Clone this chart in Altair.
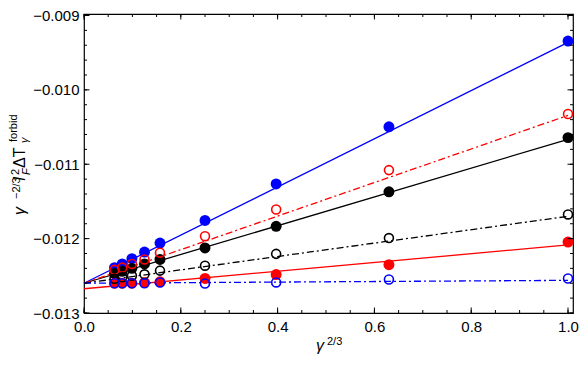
import altair as alt
import pandas as pd

# ---- data ----
x_vals = [0.063, 0.079, 0.099, 0.125, 0.157, 0.25, 0.397, 0.63, 1.0]

blue_filled = [-0.01239, -0.01234, -0.01227, -0.01218, -0.01206, -0.011755, -0.011265, -0.010497, -0.009344]
red_open = [-0.01242, -0.01239, -0.01234, -0.01228, -0.01219, -0.011967, -0.011609, -0.011079, -0.010325]
black_filled = [-0.01247, -0.01244, -0.01240, -0.01234, -0.01228, -0.012126, -0.011834, -0.011371, -0.010642]
black_open = [-0.01254, -0.01252, -0.01250, -0.01248, -0.01243, -0.012364, -0.012205, -0.011993, -0.011675]
red_filled = [-0.01260, -0.01260, -0.01260, -0.01259, -0.01258, -0.012536, -0.012483, -0.012351, -0.012046]
blue_open = [-0.01260, -0.01260, -0.01260, -0.01260, -0.01259, -0.012603, -0.012589, -0.012550, -0.012536]

# fit lines: value at x=0 and x=1
fit_x = [0.0, 1.0]
blue_filled_fit = [-0.012600, -0.009362]
red_open_fit = [-0.012600, -0.010343]
black_filled_fit = [-0.012600, -0.010665]
black_open_fit = [-0.012600, -0.011700]
red_filled_fit = [-0.012674, -0.012085]
blue_open_fit = [-0.012600, -0.012561]

x_major = [0.0, 0.2, 0.4, 0.6, 0.8, 1.0]
x_minor = [round(i * 0.05, 2) for i in range(21)]
y_major = [-0.013, -0.012, -0.011, -0.010, -0.009]
y_minor = [round(-0.013 + i * 0.0002, 4) for i in range(21)]

# ---- styles ----
BLUE = "#0000ff"
RED = "#ff0000"
BLACK = "#000000"
DASHDOT = [7, 3, 2, 3]
series = [
    (blue_filled, blue_filled_fit, BLUE, True, None),
    (black_filled, black_filled_fit, BLACK, True, None),
    (red_filled, red_filled_fit, RED, True, None),
    (red_open, red_open_fit, RED, False, DASHDOT),
    (black_open, black_open_fit, BLACK, False, DASHDOT),
    (blue_open, blue_open_fit, BLUE, False, DASHDOT),
]

W, H = 489, 299
FONT = "Liberation Sans"

xscale = alt.Scale(domain=[0, 1.0103], nice=False, zero=False)
yscale = alt.Scale(domain=[-0.013, -0.00898], nice=False, zero=False)

xaxis = alt.Axis(values=x_major, format=".1f", ticks=False, tickSize=0, grid=False,
                 domain=False, labelPadding=6, labelFlush=False, labelOverlap=False,
                 title=None, labelFontSize=15, labelFont=FONT, labelColor="black")
yaxis = alt.Axis(values=y_major, format=".3f", ticks=False, tickSize=0, grid=False,
                 domain=False, labelPadding=5, labelFlush=False, labelOverlap=False,
                 title=None, labelFontSize=15, labelFont=FONT, labelColor="black")

X = alt.X("x:Q", scale=xscale, axis=xaxis)
Y = alt.Y("y:Q", scale=yscale, axis=yaxis)

layers = []

# fit lines
for pts, fit, color, filled, dash in series:
    df = pd.DataFrame({"x": fit_x, "y": fit})
    kw = dict(color=color, strokeWidth=1.3)
    if dash:
        kw["strokeDash"] = dash
    layers.append(alt.Chart(df).mark_line(**kw).encode(x=X, y=Y))

# points: filled first, then open
for pts, fit, color, filled, dash in series:
    df = pd.DataFrame({"x": x_vals, "y": pts})
    if filled:
        m = alt.Chart(df).mark_point(shape="circle", filled=True, size=120, color=color, opacity=1)
    else:
        m = alt.Chart(df).mark_point(shape="circle", filled=False, size=80, color=color,
                                     strokeWidth=1.6, opacity=1)
    layers.append(m.encode(x=X, y=Y))

# inward ticks on all four sides
def xticks(vals, L):
    df = pd.DataFrame({"x": vals})
    b = alt.Chart(df).mark_rule(color="black", strokeWidth=1).encode(
        x=X, y=alt.value(H), y2=alt.value(H - L))
    t = alt.Chart(df).mark_rule(color="black", strokeWidth=1).encode(
        x=X, y=alt.value(0), y2=alt.value(L))
    return [b, t]

def yticks(vals, L):
    df = pd.DataFrame({"y": vals})
    l = alt.Chart(df).mark_rule(color="black", strokeWidth=1).encode(
        y=Y, x=alt.value(0), x2=alt.value(L))
    r = alt.Chart(df).mark_rule(color="black", strokeWidth=1).encode(
        y=Y, x=alt.value(W), x2=alt.value(W - L))
    return [l, r]

layers += xticks(x_minor, 3) + xticks(x_major, 5.5)
layers += yticks(y_minor, 3) + yticks(y_major, 5.5)

# titles as text pieces (super/subscripts)
def txt(s, x, y, size, angle=0, italic=False):
    return alt.Chart(pd.DataFrame({"t": [s]})).mark_text(
        font=FONT, fontSize=size, fontStyle="italic" if italic else "normal",
        angle=angle, align="left", baseline="alphabetic", color="black"
    ).encode(text="t:N", x=alt.value(x), y=alt.value(y))

# y title (rotated); positions relative to plot origin
DX, DY = 7.5, -5
layers += [
    txt("γ", -66.5 + DX, 206 + DY, 16, 270, True),
    txt("−2/3", -72 + DX, 190 + DY, 11, 270),
    txt("I", -66.5 + DX, 172 + DY, 16, 270, True),
    txt("2", -72.5 + DX, 166 + DY, 11, 270),
    txt("F", -62 + DX, 166 + DY, 11, 270, True),
    txt("ΔT", -66.5 + DX, 159 + DY, 16, 270),
    txt("forbid", -74.5 + DX, 133 + DY, 11, 270),
    txt("γ", -63.5 + DX, 134 + DY, 11, 270, True),
]
# x title
layers += [
    txt("γ", 232, 337, 16, 0, True),
    txt("2/3", 243, 331, 11, 0),
]

chart = alt.layer(*layers).properties(
    width=W, height=H,
    autosize=alt.AutoSizeParams(type="none"),
    padding={"left": 76, "top": 6, "right": 6, "bottom": 44},
).configure_view(stroke="black", strokeWidth=1.2)

chart.save("out.html", embed_options={"renderer": "svg", "actions": False})
